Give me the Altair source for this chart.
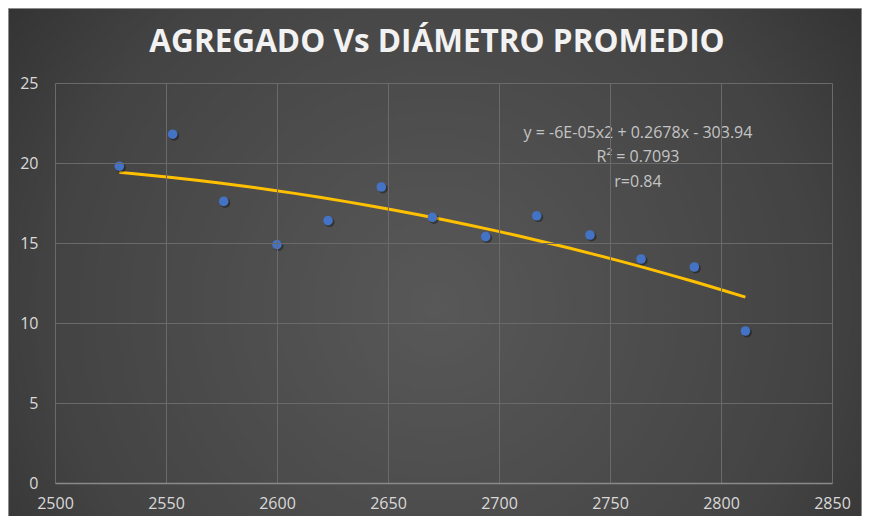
import altair as alt
import pandas as pd

diametro = [2529, 2553, 2576, 2600, 2623, 2647, 2670, 2694, 2717, 2741, 2764, 2788, 2811]
agregado = [19.8, 21.8, 17.6, 14.9, 16.4, 18.5, 16.6, 15.4, 16.7, 15.5, 14.0, 13.5, 9.5]
x_ticks = [2500, 2550, 2600, 2650, 2700, 2750, 2800, 2850]
y_ticks = [0, 5, 10, 15, 20, 25]
eq_lines = ["y = -6E-05x2 + 0.2678x - 303.94", "R² = 0.7093", "r=0.84"]
title_text = "AGREGADO Vs DIÁMETRO PROMEDIO"

df = pd.DataFrame({"x": diametro, "y": agregado})

W, H = 777, 400
PAD = {"left": 47, "top": 75, "right": 30, "bottom": 33}

xscale = alt.Scale(domain=[2500, 2850], nice=False)
yscale = alt.Scale(domain=[0, 25], nice=False)

bg_fill = {
    "gradient": "radial",
    "x1": 0.5, "y1": 0.55, "r1": 0,
    "x2": 0.5, "y2": 0.55, "r2": 0.75,
    "stops": [
        {"offset": 0, "color": "#585858"},
        {"offset": 0.6, "color": "#434343"},
        {"offset": 1, "color": "#262626"},
    ],
}

bg = alt.Chart(pd.DataFrame({"a": [0]})).mark_rect(
    clip=False, fill=bg_fill, stroke="#8c8c8c", strokeWidth=1
).encode(
    x=alt.value(-PAD["left"] + 0.5), x2=alt.value(W + PAD["right"] - 0.5),
    y=alt.value(-PAD["top"] + 0.5), y2=alt.value(H + PAD["bottom"] + 2),
)

base = alt.Chart(df)

axes = base.mark_point(opacity=0).encode(
    x=alt.X("x:Q", scale=xscale,
            axis=alt.Axis(values=x_ticks, format="d", title=None, grid=True, gridColor="#6a6a6a",
                          gridWidth=1, domain=True, domainColor="#8a8a8a", domainWidth=1.5,
                          ticks=False, labelColor="#d9d9d9", labelFontSize=16, labelFlush=False,
                          labelFont="Open Sans", labelPadding=12, zindex=1)),
    y=alt.Y("y:Q", scale=yscale,
            axis=alt.Axis(values=y_ticks, title=None, grid=True, gridColor="#6a6a6a",
                          gridWidth=1, domain=False, ticks=False, labelColor="#d9d9d9",
                          labelFontSize=16, labelFont="Open Sans", labelPadding=17, zindex=1)),
)

trend = base.transform_regression("x", "y", method="poly", order=2).mark_line(
    color="#ffc000", strokeWidth=3
).encode(x=alt.X("x:Q", scale=xscale), y=alt.Y("y:Q", scale=yscale))

shadow = base.mark_circle(size=100, color="#000000", opacity=0.35).encode(
    x=alt.X("x:Q", scale=xscale), y=alt.Y("y:Q", scale=yscale),
    xOffset=alt.value(1.5), yOffset=alt.value(1.5),
)

pts = base.mark_circle(size=92, color="#4472c4", opacity=1).encode(
    x=alt.X("x:Q", scale=xscale), y=alt.Y("y:Q", scale=yscale)
)

ann_layers = []
ann_y = [50, 74, 99]
for i, t in enumerate(eq_lines):
    ann_layers.append(
        alt.Chart(pd.DataFrame({"t": [t]})).mark_text(
            font="Open Sans", fontSize=16, color="#c4c4c4", align="center", baseline="middle"
        ).encode(x=alt.value(583), y=alt.value(ann_y[i]), text="t:N")
    )

title = alt.Chart(pd.DataFrame({"t": [title_text]})).mark_text(
    font="Open Sans", fontSize=31.5, fontWeight="bold", color="#f2f2f2",
    align="center", baseline="middle", clip=False
).encode(x=alt.value(382), y=alt.value(-40), text="t:N")

chart = alt.layer(bg, axes, trend, shadow, pts, *ann_layers, title).properties(
    width=W, height=H,
    autosize=alt.AutoSizeParams(type="none"),
    padding=PAD,
    background="#ffffff",
).configure_view(stroke=None)

chart.save("out.html", embed_options={"renderer": "svg", "actions": False})
